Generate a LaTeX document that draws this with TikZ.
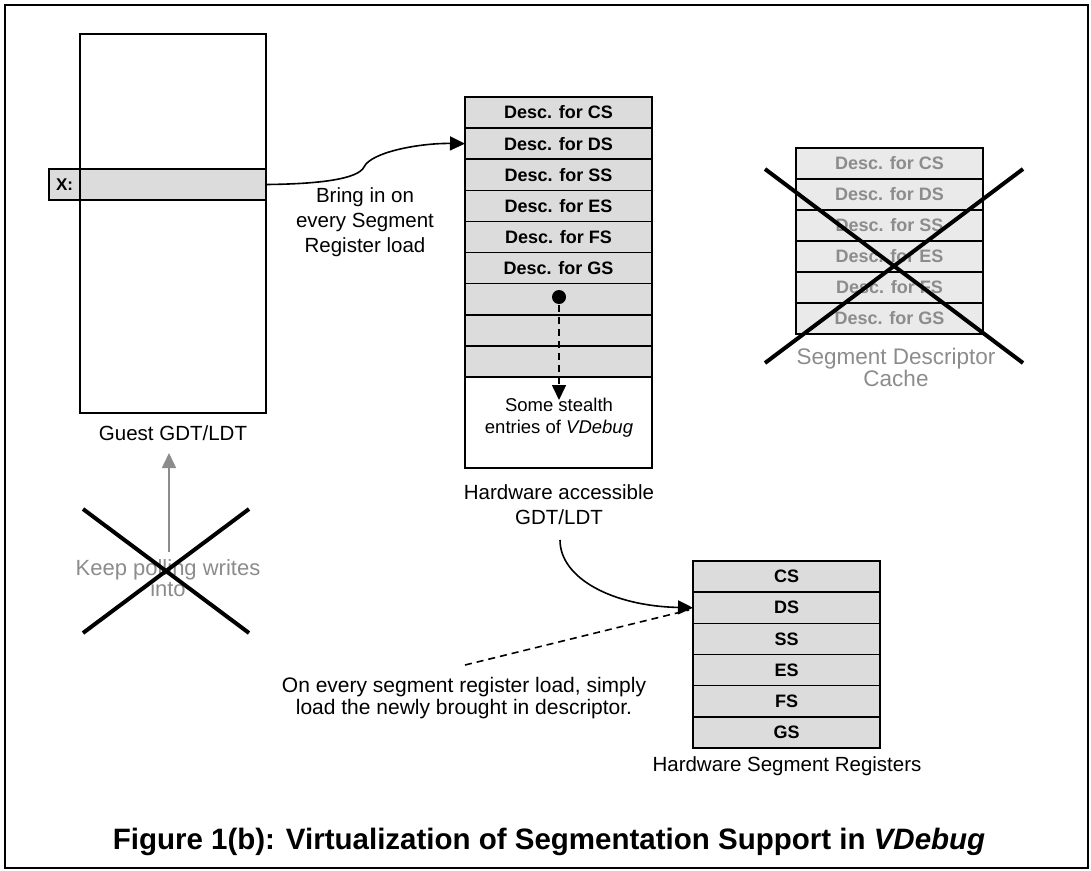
\documentclass[tikz,border=0pt]{standalone}
\usepackage{fontspec}
\setmainfont{Liberation Sans}
\usetikzlibrary{arrows.meta}
\definecolor{rowgray}{RGB}{220,220,220}
\definecolor{cachegray}{RGB}{234,234,234}
\definecolor{txtgray}{RGB}{140,140,140}
\begin{document}
\begin{tikzpicture}[x=1pt,y=-1pt,
  line width=1.6pt,
  row/.style={draw=black, line width=1.6pt, fill=rowgray, minimum width=187pt, minimum height=31.1pt, inner sep=0pt, outer sep=0pt, anchor=north west, font=\fontsize{18}{20}\selectfont\bfseries},
  cacherow/.style={row, fill=cachegray, text=txtgray},
  plainbox/.style={draw=black, line width=1.6pt, inner sep=0pt, outer sep=0pt, anchor=north west},
  lbl/.style={align=center, inner sep=0pt, font=\fontsize{20.5}{25}\selectfont},
  graylbl/.style={lbl, text=txtgray},
  crossline/.style={line width=4pt},
  tip/.style={-{Triangle[length=15pt,width=14pt]}},
  dashline/.style={dash pattern=on 7pt off 5pt}
]
\useasboundingbox (0,0) rectangle (1091,870);
\draw[line width=2pt] (5,5) rectangle (1088,868);

% Guest GDT/LDT
\node[plainbox, minimum width=186pt, minimum height=379pt] (guest) at (80,34) {};
\node[row, minimum width=186pt, minimum height=31pt] (xrow) at (80,169) {};
\node[row, minimum width=31pt, minimum height=31pt, font=\fontsize{17}{19}\selectfont\bfseries] (xlab) at (49,169) {X:};
\node[lbl] (guestlbl) at (173,433) {Guest GDT/LDT};

% Hardware accessible GDT/LDT
\foreach \t [count=\i] in {Desc. for CS,Desc. for DS,Desc. for SS,Desc. for ES,Desc. for FS,Desc. for GS,,,}
  \node[row] (m\i) at (465,{97+31.1*(\i-1)}) {\t};
\node[plainbox, minimum width=187pt, minimum height=91pt] (mw) at (465,376.9) {};
\node[circle, fill=black, minimum size=14pt, inner sep=0pt] (dot) at (559,297) {};
\coordinate (stealthtip) at (559,400);
\draw[dashline, tip] (dot) -- (stealthtip);
\node[lbl, font=\fontsize{18.5}{22}\selectfont] (stealth) at (559,418) {Some stealth\\entries of \textit{VDebug}};
\node[lbl] (hwlbl) at (559,505) {Hardware accessible\\GDT/LDT};

% Bring in arrow
\draw[tip] (xrow.east) .. controls (320,184) and (358,179) .. (364,167) .. controls (371,152) and (420,143) .. (m2.west);
\node[lbl] (bring) at (365,222) {Bring in on\\every Segment\\Register load};

% Segment descriptor cache
\foreach \t [count=\i] in {Desc. for CS,Desc. for DS,Desc. for SS,Desc. for ES,Desc. for FS,Desc. for GS}
  \node[cacherow] (c\i) at (796,{148+31*(\i-1)}) {\t};
\node[graylbl, font=\fontsize{22.5}{20}\selectfont] (cachelbl) at (896,367) {Segment Descriptor\\Cache};
\draw[crossline] (765,169) -- (1023,363);
\draw[crossline] (765,363) -- (1023,169);

% Keep polling (crossed out)
\coordinate (kpstart) at (169,552);
\coordinate (kpend) at (169,453);
\draw[txtgray, tip] (kpstart) -- (kpend);
\node[graylbl, font=\fontsize{22}{20}\selectfont] (keep) at (168,578) {Keep polling writes\\into};
\draw[crossline] (83,509) -- (249,633);
\draw[crossline] (83,633) -- (249,509);

% Hardware segment registers
\foreach \t [count=\i] in {CS,DS,SS,ES,FS,GS}
  \node[row, minimum height=31.17pt] (r\i) at (693,{561+31.17*(\i-1)}) {\t};
\node[lbl] (reglbl) at (787,766) {Hardware Segment Registers};

\coordinate (hwout) at (560,540);
\draw[tip] (hwout) .. controls (560,578) and (612,606) .. (r2.west);
\coordinate (dstart) at (465,665);
\coordinate (dend) at (689,610);
\draw[dashline] (dstart) -- (dend);
\node[lbl, font=\fontsize{21}{22}\selectfont] (onevery) at (464,698) {On every segment register load, simply\\load the newly brought in descriptor.};

% Caption
\node[inner sep=0pt, font=\fontsize{29.5}{34}\selectfont\bfseries] (caption) at (549,842) {Figure 1(b): Virtualization of Segmentation Support in \textit{VDebug}};
\end{tikzpicture}
\end{document}
